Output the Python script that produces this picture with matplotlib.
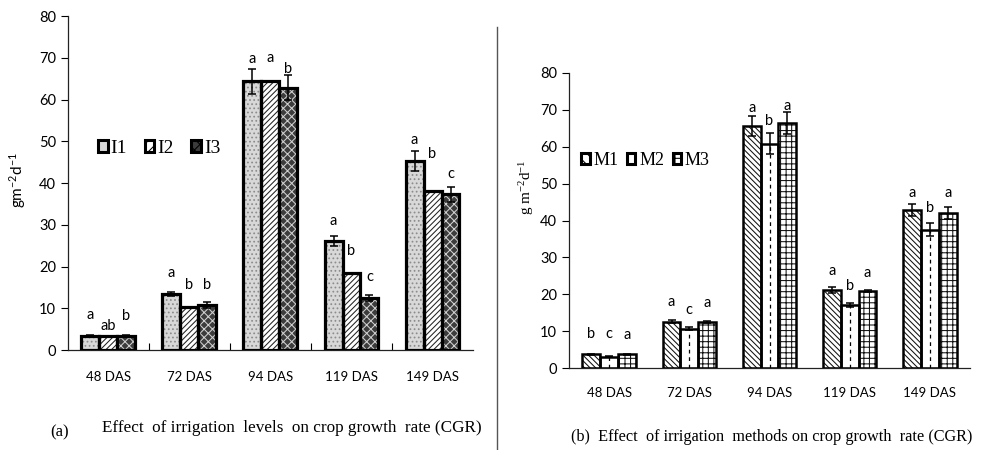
import matplotlib
matplotlib.use("Agg")
import matplotlib.pyplot as plt
import numpy as np
from matplotlib.patches import Patch
from matplotlib.lines import Line2D

plt.rcParams["hatch.linewidth"] = 0.75
plt.rcParams["mathtext.default"] = "regular"

SANS = "Lato"
SERIF = "Liberation Serif"

# ---- data (crop growth rate, g m-2 d-1) ----
STAGES = ["48 DAS", "72 DAS", "94 DAS", "119 DAS", "149 DAS"]

LEVELS = ["I1", "I2", "I3"]
I1 = [3.4, 13.4, 64.4, 26.2, 45.3]
I2 = [3.3, 10.2, 64.5, 18.5, 38.2]
I3 = [3.3, 10.8, 62.8, 12.4, 37.3]
I1_ERR = [0.2, 0.4, 3.0, 1.2, 2.4]
I3_ERR = [0.2, 0.7, 3.0, 0.7, 1.8]
LEVEL_LETTERS = [["a", "a", "a", "a", "a"],
                 ["ab", "b", "a", "b", "b"],
                 ["b", "b", "b", "c", "c"]]
LEVEL_LETTER_Y = [[6.8, 16.8, 68.0, 29.2, 48.6],
                  [4.0, 14.0, 68.2, 22.0, 45.2],
                  [6.4, 14.0, 65.6, 15.8, 40.6]]

METHODS = ["M1", "M2", "M3"]
M1 = [3.7, 12.6, 65.6, 21.2, 42.8]
M2 = [3.1, 10.7, 60.8, 17.0, 37.5]
M3 = [3.7, 12.5, 66.4, 20.9, 42.1]
M1_ERR = [0.2, 0.3, 2.7, 0.8, 1.6]
M2_ERR = [0.2, 0.4, 2.9, 0.5, 1.8]
M3_ERR = [0.2, 0.3, 3.0, 0.3, 1.6]
METHOD_LETTERS = [["b", "a", "a", "a", "a"],
                  ["c", "c", "b", "b", "b"],
                  ["a", "a", "a", "a", "a"]]
METHOD_LETTER_Y = [[7.2, 15.9, 68.6, 24.3, 45.6],
                   [7.2, 13.9, 65.0, 20.4, 41.5],
                   [7.0, 15.8, 69.1, 23.9, 45.6]]

W = 0.222

fig = plt.figure(figsize=(9.99, 4.5), dpi=100)
fig.patch.set_facecolor("white")
ax1 = fig.add_axes([0.068, 0.2222, 0.4055, 0.7422])
ax2 = fig.add_axes([0.5696, 0.1822, 0.4014, 0.6556])

x = np.arange(len(STAGES))


def hatched_bar(ax, xs, vals, face, hatch, hcolor, lw):
    ax.bar(xs, vals, W, facecolor=face, hatch=hatch, edgecolor=hcolor,
           linewidth=0, zorder=2)
    ax.bar(xs, vals, W, facecolor="none", edgecolor="black",
           linewidth=lw, zorder=3)


# ---- (a) irrigation levels ----
styles_a = [("#d8d8d8", "....", "#8c8c8c"),
            ("white", "//////", "#222222"),
            ("#3c3c3c", "xxxx", "#d0d0d0")]
series_a = [I1, I2, I3]
for j, (vals, st) in enumerate(zip(series_a, styles_a)):
    hatched_bar(ax1, x + (j - 1) * W, vals, *st, lw=2.3)
for j, err in ((0, I1_ERR), (2, I3_ERR)):
    ax1.errorbar(x + (j - 1) * W, series_a[j], yerr=err, fmt="none",
                 ecolor="black", elinewidth=1.1, capsize=3, capthick=1.1,
                 zorder=4)
for j in range(3):
    for i in range(len(STAGES)):
        ax1.text(x[i] + (j - 1) * W, LEVEL_LETTER_Y[j][i], LEVEL_LETTERS[j][i],
                 ha="center", va="bottom", fontsize=10.5, family=SANS)

ax1.set_xlim(-0.5, len(STAGES) - 0.5)
ax1.set_ylim(0, 80)
ax1.set_yticks(range(0, 81, 10))
ax1.set_xticks(x)
ax1.set_xticklabels(STAGES, fontsize=9.5, family=SANS)
ax1.set_xticks(x[:-1] + 0.5, minor=True)
ax1.tick_params(axis="x", which="major", length=0, pad=15)
ax1.tick_params(axis="x", which="minor", direction="in", length=5, width=0.8)
ax1.tick_params(axis="y", length=5, width=0.8, labelsize=10.5)
for lab in ax1.get_yticklabels():
    lab.set_family(SANS)

leg_a = [Patch(facecolor=s[0], edgecolor="black",
               hatch=None if j == 0 else s[1][:3], linewidth=2.2, label=n)
         for j, (n, s) in enumerate(zip(LEVELS, styles_a))]
ax1.legend(handles=leg_a, ncol=3, frameon=False, loc="center left",
           bbox_to_anchor=(0.098, 0.671), bbox_transform=fig.transFigure,
           prop={"family": SERIF, "size": 14}, handlelength=0.5,
           handleheight=0.6, handletextpad=0.15, columnspacing=0.9,
           borderpad=0, borderaxespad=0)

# ---- (b) irrigation methods ----
styles_b = [("white", "\\\\\\\\\\\\", "#111111"),
            ("white", None, "black"),
            ("white", "+++", "#111111")]
series_b = [M1, M2, M3]
errs_b = [M1_ERR, M2_ERR, M3_ERR]
for j, (vals, st) in enumerate(zip(series_b, styles_b)):
    hatched_bar(ax2, x + (j - 1) * W, vals, *st, lw=1.8)
ax2.vlines(x, 0, M2, colors="black", linewidth=0.9,
           linestyles=(0, (3, 3)), zorder=2.5)
for j in range(3):
    ax2.errorbar(x + (j - 1) * W, series_b[j], yerr=errs_b[j], fmt="none",
                 ecolor="black", elinewidth=1.1, capsize=3, capthick=1.1,
                 zorder=4)
    for i in range(len(STAGES)):
        ax2.text(x[i] + (j - 1) * W, METHOD_LETTER_Y[j][i],
                 METHOD_LETTERS[j][i], ha="center", va="bottom",
                 fontsize=10.5, family=SANS)

ax2.set_xlim(-0.5, len(STAGES) - 0.5)
ax2.set_ylim(0, 80)
ax2.set_yticks(range(0, 81, 10))
ax2.set_xticks(x)
ax2.set_xticklabels(STAGES, fontsize=9.5, family=SANS)
ax2.tick_params(axis="x", length=0, pad=14)
ax2.tick_params(axis="y", length=5, width=0.8, labelsize=10.5)
for lab in ax2.get_yticklabels():
    lab.set_family(SANS)

leg_b = [Patch(facecolor="white", edgecolor="black",
               hatch=s[1][:3] if s[1] else None, linewidth=2.2, label=n)
         for n, s in zip(METHODS, styles_b)]
ax2.legend(handles=leg_b, ncol=3, frameon=False, loc="center left",
           bbox_to_anchor=(0.582, 0.644), bbox_transform=fig.transFigure,
           prop={"family": SERIF, "size": 13}, handlelength=0.45,
           handleheight=0.6, handletextpad=0.2, columnspacing=0.5,
           borderpad=0, borderaxespad=0)

for ax in (ax1, ax2):
    for side in ("top", "right"):
        ax.spines[side].set_visible(False)
    for side in ("left", "bottom"):
        ax.spines[side].set_linewidth(0.9)
        ax.spines[side].set_color("#222222")

# axis labels and captions
fig.text(0.018, 0.60, "gm$^{-2}$d$^{-1}$", rotation=90, ha="center",
         va="center", fontsize=11, family=SANS)
fig.text(0.527, 0.585, "g m$^{-2}$d$^{-1}$", rotation=90, ha="center",
         va="center", fontsize=11, family=SERIF)

fig.text(0.060, 0.040, "(a)", ha="center", va="center", fontsize=12,
         family=SERIF)
fig.text(0.102, 0.050, "Effect  of irrigation  levels  on crop growth  rate (CGR)",
         ha="left", va="center", fontsize=12.3, family=SERIF)
fig.text(0.572, 0.029, "(b)  Effect  of irrigation  methods on crop growth  rate (CGR)",
         ha="left", va="center", fontsize=11.7, family=SERIF)

fig.add_artist(Line2D([0.4975, 0.4975], [0.0, 0.94], color="#555555",
                      linewidth=1.0, transform=fig.transFigure))

fig.savefig("out.png", dpi=100, facecolor="white")
